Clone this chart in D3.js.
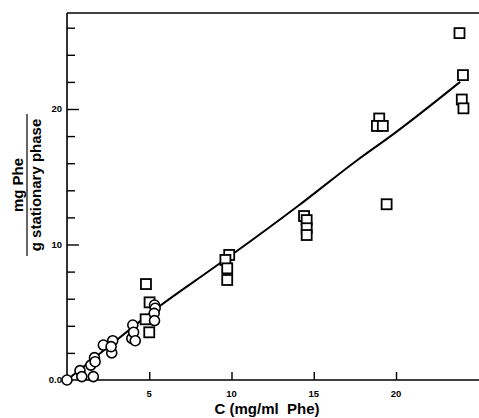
<!DOCTYPE html>
<html>
<head>
<meta charset="utf-8">
<script src="https://cdn.jsdelivr.net/npm/d3@7"></script>
<style>
  body { margin: 0; background: #fff; }
  svg { display: block; }
  text { font-family: 'Liberation Sans', Arial, sans-serif; font-weight: bold; fill: #000; }
</style>
</head>
<body>
<svg id="chart"></svg>
<script>
// square markers (C, loading)
const squareX = [23.86, 24.07, 24.0, 24.1, 18.98, 18.84, 19.2, 19.43, 14.41, 14.57, 14.57, 14.57, 9.86, 9.63, 9.74, 9.74, 4.8, 5.02, 4.78, 5.0]
const squareY = [25.6, 22.5, 20.7, 20.05, 19.3, 18.75, 18.75, 12.97, 12.1, 11.8, 11.2, 10.7, 9.23, 8.86, 8.24, 7.38, 7.08, 5.73, 4.48, 3.52]

// circle markers
const circleX = [0, 0.79, 0.9, 1.6, 1.45, 1.67, 1.71, 2.21, 2.72, 2.78, 2.68, 3.94, 4.0, 4.05, 4.15, 5.32, 5.36, 5.3, 5.32]
const circleY = [0, 0.69, 0.25, 0.25, 1.1, 1.65, 1.35, 2.58, 2.0, 2.9, 2.46, 3.07, 4.06, 3.52, 2.9, 5.53, 5.29, 4.92, 4.38]

// fitted isotherm
const fitX = [0, 2, 5.57, 8.72, 10.14, 14.0, 17.66, 19.9, 23.9]
const fitY = [0, 1.95, 5.4, 8.12, 9.35, 12.8, 16.24, 18.2, 22.0]

const xTicks = [5, 10, 15, 20]
const yMajor = [0, 10, 20]
const yMinor = [2, 4, 6, 8, 12, 14, 16, 18, 22, 24, 26]

const W = 479, H = 418
const margin = { top: 13, right: 0, bottom: 38, left: 67 }
const width = W - margin.left - margin.right
const height = H - margin.top - margin.bottom

const svg = d3.select('#chart').attr('width', W).attr('height', H)
const g = svg.append('g').attr('transform', `translate(${margin.left},${margin.top})`)

const x = d3.scaleLinear().domain([0, width / 16.45]).range([0, width])
const y = d3.scaleLinear().domain([0, height / 13.55]).range([height, 0])

// frame: left, bottom, top
g.append('line').attr('x1', 0).attr('x2', 0).attr('y1', 0).attr('y2', height).attr('stroke', '#000').attr('stroke-width', 1.6)
g.append('line').attr('x1', 0).attr('x2', width).attr('y1', height).attr('y2', height).attr('stroke', '#000').attr('stroke-width', 1.6)
g.append('line').attr('x1', 0).attr('x2', width).attr('y1', 0).attr('y2', 0).attr('stroke', '#000').attr('stroke-width', 1.4)

// x axis (ticks pointing inward)
const xAxis = g.append('g')
  .attr('transform', `translate(0,${height})`)
  .call(d3.axisTop(x).tickValues(xTicks).tickSize(8).tickFormat(''))
xAxis.select('.domain').remove()
xAxis.selectAll('line').attr('stroke-width', 1.4)
g.selectAll('.xlab')
  .data(xTicks)
  .join('text')
  .attr('x', (d) => x(d))
  .attr('y', height + 17)
  .attr('text-anchor', 'middle')
  .style('font-size', '9.5px')
  .text((d) => d)

// y axis
const yAxisMinor = g.append('g').call(d3.axisRight(y).tickValues(yMinor).tickSize(8).tickFormat(''))
yAxisMinor.select('.domain').remove()
yAxisMinor.selectAll('line').attr('stroke-width', 1.4)
const yAxisMajor = g.append('g').call(d3.axisRight(y).tickValues(yMajor.filter((d) => d > 0)).tickSize(12).tickFormat(''))
yAxisMajor.select('.domain').remove()
yAxisMajor.selectAll('line').attr('stroke-width', 1.4)
g.selectAll('.ylab')
  .data(yMajor)
  .join('text')
  .attr('x', -5)
  .attr('y', (d) => y(d))
  .attr('dy', '0.35em')
  .attr('text-anchor', 'end')
  .style('font-size', '9.5px')
  .text((d) => (d === 0 ? '0.0' : d))

// fit line
const line = d3.line()
  .x((d) => x(d[0]))
  .y((d) => y(d[1]))
  .curve(d3.curveMonotoneX)
g.append('path')
  .datum(fitX.map((d, i) => [d, fitY[i]]))
  .attr('fill', 'none')
  .attr('stroke', '#000')
  .attr('stroke-width', 2)
  .attr('d', line)

// squares
const s = 10
g.selectAll('.sq')
  .data(squareX.map((d, i) => [d, squareY[i]]))
  .join('rect')
  .attr('x', (d) => x(d[0]) - s / 2)
  .attr('y', (d) => y(d[1]) - s / 2)
  .attr('width', s)
  .attr('height', s)
  .attr('fill', '#fff')
  .attr('stroke', '#000')
  .attr('stroke-width', 1.8)

// circles
g.selectAll('.ci')
  .data(circleX.map((d, i) => [d, circleY[i]]))
  .join('circle')
  .attr('cx', (d) => x(d[0]))
  .attr('cy', (d) => y(d[1]))
  .attr('r', 5)
  .attr('fill', '#fff')
  .attr('stroke', '#000')
  .attr('stroke-width', 1.6)

// x title
svg.append('text')
  .attr('x', 267)
  .attr('y', 414)
  .attr('text-anchor', 'middle')
  .style('font-size', '15px')
  .attr('xml:space', 'preserve')
  .text('C (mg/ml  Phe)')

// y title as a fraction
const yt = svg.append('g').attr('transform', 'translate(0,185) rotate(-90)')
yt.append('text')
  .attr('x', 0)
  .attr('y', 23)
  .attr('text-anchor', 'middle')
  .style('font-size', '15px')
  .text('mg Phe')
yt.append('line')
  .attr('x1', -71).attr('x2', 71)
  .attr('y1', 27).attr('y2', 27)
  .attr('stroke', '#000').attr('stroke-width', 1.2)
yt.append('text')
  .attr('x', 0)
  .attr('y', 41)
  .attr('text-anchor', 'middle')
  .style('font-size', '15px')
  .text('g stationary phase')
</script>
</body>
</html>
